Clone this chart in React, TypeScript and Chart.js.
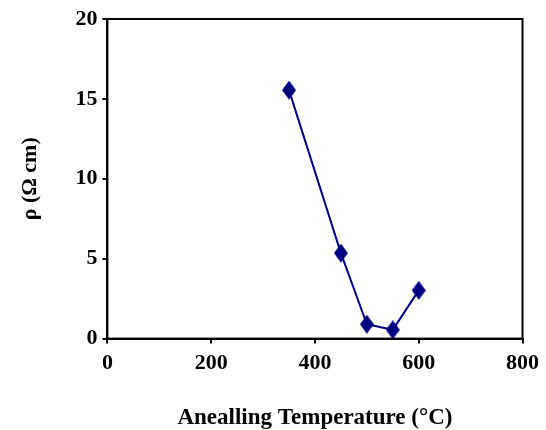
import React, { useEffect, useRef } from "react";
import { Chart, registerables } from "chart.js";

Chart.register(...registerables);

const temperatures = [350, 450, 500, 550, 600];
const resistivity = [15.55, 5.35, 0.9, 0.55, 3.02];
const xTicks = [0, 200, 400, 600, 800];
const yTicks = [0, 5, 10, 15, 20];

const NAVY = "#000080";

function makeDiamond(): HTMLCanvasElement {
  const c = document.createElement("canvas");
  c.width = 14;
  c.height = 19;
  const ctx = c.getContext("2d")!;
  ctx.fillStyle = NAVY;
  ctx.beginPath();
  ctx.moveTo(7, 0);
  ctx.lineTo(14, 9.5);
  ctx.lineTo(7, 19);
  ctx.lineTo(0, 9.5);
  ctx.closePath();
  ctx.fill();
  return c;
}

const frame = {
  id: "frame",
  afterDraw(chart: any) {
    const { ctx, chartArea } = chart;
    ctx.save();
    ctx.strokeStyle = "#000";
    ctx.lineWidth = 2;
    ctx.strokeRect(chartArea.left, chartArea.top, chartArea.right - chartArea.left, chartArea.bottom - chartArea.top);
    ctx.restore();
  },
};

export default function App() {
  const ref = useRef<HTMLCanvasElement>(null);
  useEffect(() => {
    const family = "'Liberation Serif', 'Times New Roman', serif";
    const tickFont = { family, weight: "bold" as const, size: 22 };
    const chart = new Chart(ref.current!, {
      type: "scatter",
      data: {
        datasets: [
          {
            data: temperatures.map((t, i) => ({ x: t, y: resistivity[i] })),
            showLine: true,
            borderColor: NAVY,
            borderWidth: 2,
            pointStyle: makeDiamond(),
            backgroundColor: NAVY,
          },
        ],
      },
      options: {
        animation: false,
        responsive: false,
        layout: { padding: { left: 0, right: 10, top: 19, bottom: 0 } },
        plugins: { legend: { display: false }, tooltip: { enabled: false } },
        scales: {
          x: {
            type: "linear",
            min: 0,
            max: 800,
            afterBuildTicks: (axis: any) => {
              axis.ticks = xTicks.map((v) => ({ value: v }));
            },
            grid: { drawOnChartArea: false, drawTicks: true, tickLength: 5, color: "#000", lineWidth: 2 },
            border: { display: true, color: "#000", width: 2 },
            ticks: { color: "#000", font: tickFont, padding: 7, maxRotation: 0 },
            title: {
              display: true,
              text: "Anealling Temperature (°C)",
              color: "#000",
              font: { family, weight: "bold" as const, size: 23, lineHeight: 1 },
              padding: { top: 23, bottom: 0 },
            },
          },
          y: {
            type: "linear",
            min: 0,
            max: 20,
            afterBuildTicks: (axis: any) => {
              axis.ticks = yTicks.map((v) => ({ value: v }));
            },
            grid: { drawOnChartArea: false, drawTicks: true, tickLength: 5, color: "#000", lineWidth: 2 },
            border: { display: true, color: "#000", width: 2 },
            ticks: { color: "#000", font: tickFont, padding: 5 },
            title: {
              display: true,
              text: "ρ (Ω cm)",
              color: "#000",
              font: { family, weight: "bold" as const, size: 22 },
              padding: { top: 17, bottom: 27 },
            },
          },
        },
      },
      plugins: [frame],
    });
    return () => chart.destroy();
  }, []);
  return (
    <div style={{ position: "absolute", left: 0, top: 0, width: 546, height: 430, background: "#fff" }}>
      <canvas ref={ref} width={546} height={430} style={{ width: 546, height: 430 }} />
    </div>
  );
}
